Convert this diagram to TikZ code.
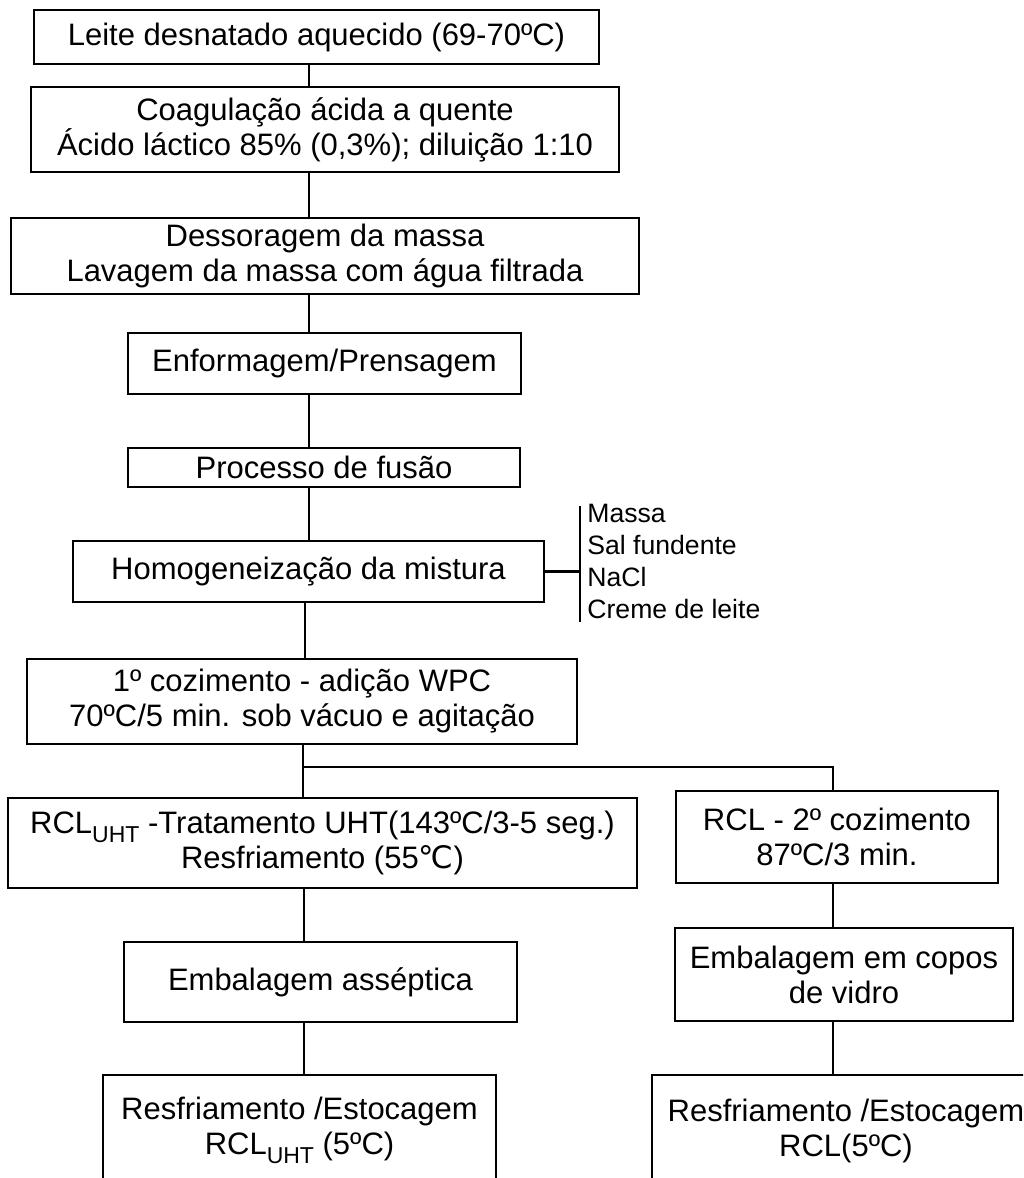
\documentclass[tikz,border=0pt]{standalone}
\usepackage{fontspec}
\setmainfont{Liberation Sans}
\newfontfamily\grausfont{DejaVu Sans}
\usetikzlibrary{positioning}
\newcommand{\subuht}{\raisebox{-0.28em}{\fontsize{11.5}{12}\selectfont UHT}}

\begin{document}
\begin{tikzpicture}[x=0.5pt, y=-0.5pt,
    etapa/.style={draw, line width=1.2pt, align=center, inner sep=0pt,
        font=\fontsize{15.5}{17.5}\selectfont},
    tam/.style 2 args={minimum width=#1*0.5pt, minimum height=#2*0.5pt},
    liga/.style={line width=1.2pt},
    insumo/.style={anchor=base west, inner sep=0pt, font=\fontsize{13.3}{16}\selectfont}]
    \useasboundingbox (0,0) rectangle (1023,1178);
    \clip (0,0) rectangle (1023,1178);

    % Main line
    \node[etapa, tam={565}{54}] (b1) at (316.5,37) {Leite desnatado aquecido (69-70ºC)};
    \node[etapa, tam={588}{85}] (b2) at (325,129.5) {Coagulação ácida a quente\\ Ácido láctico 85\% (0,3\%); diluição 1:10};
    \node[etapa, tam={628}{76}] (b3) at (325,256) {Dessoragem da massa\\Lavagem da massa com água filtrada};
    \node[etapa, tam={393}{61}] (b4) at (324.5,363.5) {Enformagem/Prensagem};
    \node[etapa, tam={392}{39}] (b5) at (324,467.5) {Processo de fusão};
    \node[etapa, tam={471}{61}] (b6) at (308.5,571.5) {Homogeneização da mistura};
    \node[etapa, tam={550}{85}] (b7) at (302,701.5) {1º cozimento - adição WPC\\70ºC/5 min. sob vácuo e agitação};

    % Two branches
    \node[etapa, tam={629}{90}] (b8) at (322.5,843) {RCL\subuht{} -Tratamento UHT(143ºC/3-5 seg.)\\Resfriamento (55{\grausfont ℃})};
    \node[etapa, tam={322}{92}] (b9) at (837,837) {RCL - 2º cozimento\\87ºC/3 min.};
    \node[etapa, tam={393}{80}] (b10) at (320.5,982) {Embalagem asséptica};
    \node[etapa, tam={338}{93}] (b11) at (844,974.5) {Embalagem em copos\\de vidro};
    \node[etapa, tam={393}{111}] (b12) at (299.5,1130.5) {Resfriamento /Estocagem\\RCL\subuht{} (5ºC)};
    \node[etapa, tam={388}{111}] (b13) at (846,1130.5) {Resfriamento /Estocagem\\RCL(5ºC)};

    % Ingredients
    \foreach \t/\yy [count=\i] in {Massa/522, Sal fundente/554, NaCl/586, Creme de leite/618}
        \node[insumo] (ins\i) at (587,\yy) {\t};

    % Connectors
    \coordinate (eixoA) at (309,0);
    \coordinate (eixoB) at (305,0);
    \coordinate (eixoC) at (303,0);
    \coordinate (eixoD) at (304,0);
    \coordinate (eixoE) at (833,0);
    \coordinate (ramo) at (0,767);
    \coordinate (chave1) at (580,506);
    \coordinate (chave2) at (580,622);

    \foreach \a/\b in {b1/b2, b2/b3, b3/b4, b4/b5, b5/b6}
        \draw[liga] (\a.south -| eixoA) -- (\b.north -| eixoA);
    \draw[liga] (b6.south -| eixoB) -- (b7.north -| eixoB);
    \draw[liga] (b7.south -| eixoC) -- (b8.north -| eixoC);
    \draw[liga] (ramo -| eixoC) -- (ramo -| eixoE) -- (b9.north -| eixoE);
    \draw[liga] (b8.south -| eixoD) -- (b10.north -| eixoD);
    \draw[liga] (b10.south -| eixoD) -- (b12.north -| eixoD);
    \draw[liga] (b9.south -| eixoE) -- (b11.north -| eixoE);
    \draw[liga] (b11.south -| eixoE) -- (b13.north -| eixoE);
    \draw[liga] (chave1) -- (chave2);
    \draw[liga] (b6.east) -- (b6.east -| chave1);
\end{tikzpicture}
\end{document}
